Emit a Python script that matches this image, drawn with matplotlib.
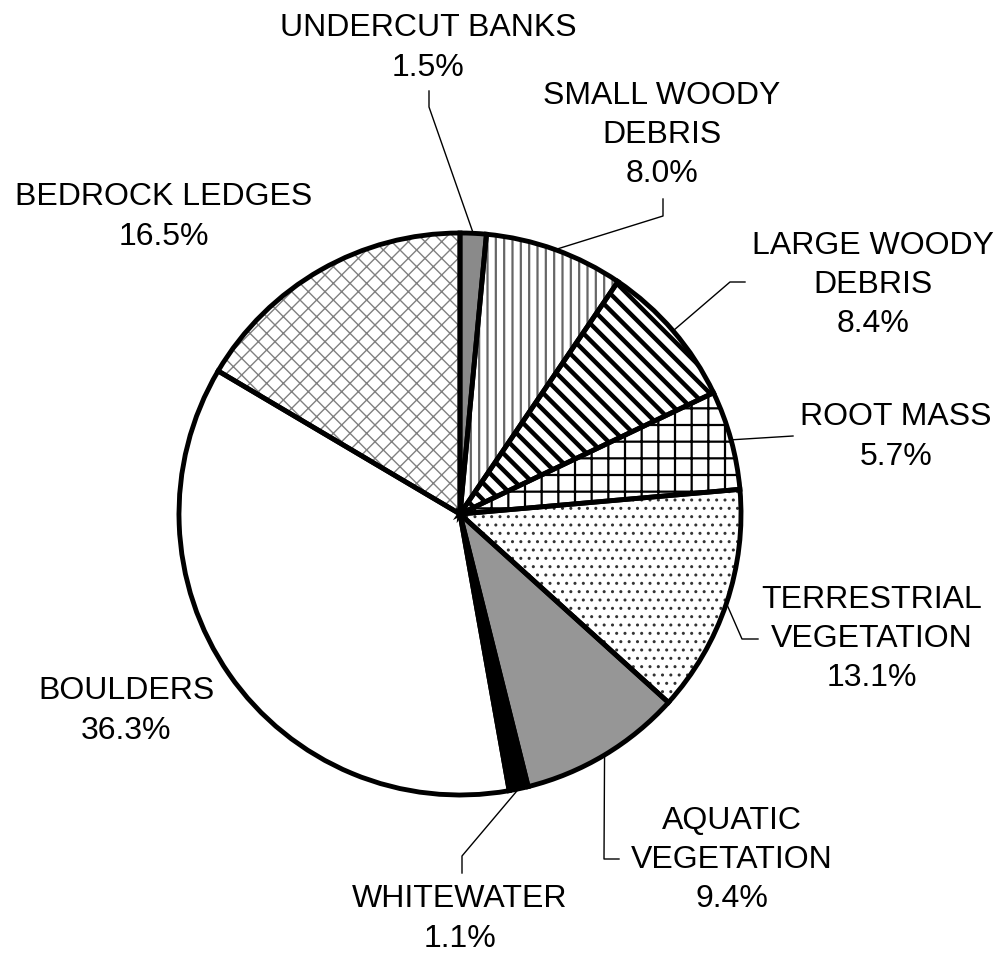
import numpy as np
import matplotlib
matplotlib.use("Agg")
import matplotlib.pyplot as plt

plt.rcParams['font.family'] = ['Liberation Sans', 'DejaVu Sans']
plt.rcParams['hatch.linewidth'] = 1.5

# data: percent of cover type, clockwise from the top
labels = ['UNDERCUT BANKS', 'SMALL WOODY\nDEBRIS', 'LARGE WOODY\nDEBRIS', 'ROOT MASS',
          'TERRESTRIAL\nVEGETATION', 'AQUATIC\nVEGETATION', 'WHITEWATER', 'BOULDERS',
          'BEDROCK LEDGES']
values = [1.5, 8.0, 8.4, 5.7, 13.1, 9.4, 1.1, 36.3, 16.5]

# styling per slice
faces = ['#8a8a8a', 'white', 'white', 'white', 'white', '#969696', 'black', 'white', 'white']
hatches = [None, '||', '\\\\', '+', '..', None, None, None, 'xx']
hatch_cols = ['black', '#666666', 'black', 'black', '#333333', 'black', 'black', 'black', '#808080']
hatch_lws = [1.0, 1.6, 3.2, 1.6, 1.0, 1.0, 1.0, 1.0, 1.0]

H = 954
cx, cy, R = 460, H - 515, 281

# label block centre (pixels, y from the top) and leader elbows
label_pos = [(428, 48), (662, 135), (873, 285), (896, 437), (872, 639),
             (732, 860), (460, 919), (126, 711), (164, 217)]
leaders = [
    [(429, 108), (429, 92)],
    [(663, 217), (663, 200)],
    [(730, 283), (745, 283)],
    [(793, 437)],
    [(742, 640), (758, 640)],
    [(604, 860), (619, 860)],
    [(462, 857), (462, 874)],
    None,
    None,
]

fig = plt.figure(figsize=(10, 9.54), dpi=100)
ax = fig.add_axes([0, 0, 1, 1])

# fill layer (hatch colour follows edge colour)
fills, _ = ax.pie(values, startangle=90, counterclock=False, center=(cx, cy),
                  radius=R, frame=True)
for w, fc, h, hc, hl in zip(fills, faces, hatches, hatch_cols, hatch_lws):
    w.set_facecolor(fc)
    w.set_edgecolor(hc)
    w.set_linewidth(0)
    if h:
        w.set_hatch(h)
        if hasattr(w, 'set_hatch_linewidth'):
            w.set_hatch_linewidth(hl)

# outline layer
outl, _ = ax.pie(values, startangle=90, counterclock=False, center=(cx, cy),
                 radius=R, frame=True,
                 wedgeprops=dict(fill=False, edgecolor='black', linewidth=3.5))

ax.set_xlim(0, 1000)
ax.set_ylim(0, H)
ax.set_aspect('equal')
ax.axis('off')

for w, lab, val, (tx, ty), lead in zip(outl, labels, values, label_pos, leaders):
    ax.text(tx, H - ty, f"{lab}\n{val:.1f}%", ha='center', va='center',
            fontsize=23, linespacing=1.40, color='black')
    if lead:
        mid = np.deg2rad((w.theta1 + w.theta2) / 2)
        pts = [(cx + R * np.cos(mid), cy + R * np.sin(mid))] + \
              [(px, H - py) for px, py in lead]
        xs, ys = zip(*pts)
        ax.plot(xs, ys, color='black', linewidth=1.0, zorder=0.5)

fig.savefig('out.png', dpi=100)
